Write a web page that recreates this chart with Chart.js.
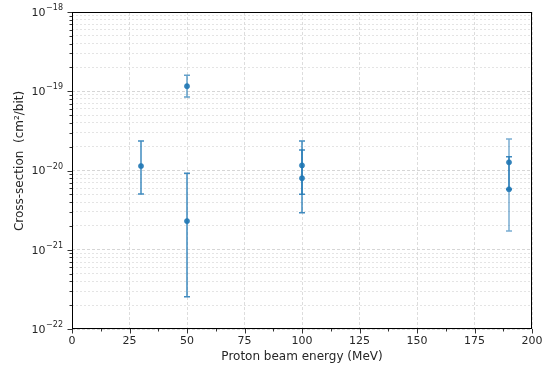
<!DOCTYPE html>
<html><head><meta charset="utf-8">
<script src="https://cdn.jsdelivr.net/npm/chart.js@4/dist/chart.umd.min.js"></script>
<style>html,body{margin:0;padding:0;background:#fff;}#wrap{width:554px;height:369px;}</style>
</head><body><div id="wrap"><canvas id="c" width="554" height="369"></canvas></div>
<script>
const energies = [30, 50, 50, 100, 100, 190, 190];
const crossSections = [1.14e-20, 1.16e-19, 2.3e-21, 1.16e-20, 8.0e-21, 1.27e-20, 5.8e-21];
const errLow = [5.05e-21, 8.45e-20, 2.56e-22, 5.0e-21, 2.93e-21, 5.8e-21, 1.73e-21];
const errHigh = [2.36e-20, 1.59e-19, 9.2e-21, 2.36e-20, 1.82e-20, 1.49e-20, 2.5e-20];
const barAlpha = [0.85, 0.7, 0.85, 0.85, 0.85, 0.85, 0.6];
const yDecades = [-22, -21, -20, -19, -18];
const xMajorTicks = [0, 25, 50, 75, 100, 125, 150, 175, 200];
const xMinorTicks = [12.5, 37.5, 62.5, 87.5, 112.5, 137.5, 162.5, 187.5];
const xTitle = 'Proton beam energy (MeV)';
const yTitle = 'Cross-section  (cm²/bit)';

const FONT = "'DejaVu Sans', sans-serif";
const BLUE = '31,119,180';
const TXT = '#262626';

const errorBars = {
  id: 'errorBars',
  afterDatasetsDraw(chart) {
    const ctx = chart.ctx, xs = chart.scales.x, ys = chart.scales.y;
    ctx.save();
    ctx.lineWidth = 1.5;
    energies.forEach((e, i) => {
      const px = xs.getPixelForValue(e);
      const pl = ys.getPixelForValue(errLow[i]);
      const ph = ys.getPixelForValue(errHigh[i]);
      ctx.strokeStyle = `rgba(${BLUE},${barAlpha[i]})`;
      ctx.beginPath();
      ctx.moveTo(px, pl); ctx.lineTo(px, ph);
      ctx.moveTo(px - 3, pl); ctx.lineTo(px + 3, pl);
      ctx.moveTo(px - 3, ph); ctx.lineTo(px + 3, ph);
      ctx.stroke();
    });
    ctx.restore();
  }
};

const frameTicks = {
  id: 'frameTicks',
  afterDraw(chart) {
    const ctx = chart.ctx, a = chart.chartArea, xs = chart.scales.x, ys = chart.scales.y;
    ctx.save();
    ctx.strokeStyle = '#000';
    ctx.lineWidth = 1;
    ctx.strokeRect(a.left + 0.5, a.top + 0.5, a.right - a.left - 1, a.bottom - a.top - 1);
    ctx.strokeStyle = '#333';
    ctx.beginPath();
    ys.ticks.forEach(t => {
      const py = Math.round(ys.getPixelForValue(t.value)) + 0.5;
      const len = t.major ? 4.5 : 2.5;
      ctx.moveTo(a.left, py); ctx.lineTo(a.left - len, py);
    });
    xMajorTicks.forEach(v => {
      const px = Math.round(xs.getPixelForValue(v)) + 0.5;
      ctx.moveTo(px, a.bottom); ctx.lineTo(px, a.bottom + 4.5);
    });
    xMinorTicks.forEach(v => {
      const px = Math.round(xs.getPixelForValue(v)) + 0.5;
      ctx.moveTo(px, a.bottom); ctx.lineTo(px, a.bottom + 2.5);
    });
    ctx.stroke();
    // y tick labels with superscript exponents
    ctx.fillStyle = TXT;
    ctx.textBaseline = 'middle';
    ctx.textAlign = 'left';
    yDecades.forEach(d => {
      const py = ys.getPixelForValue(Math.pow(10, d));
      const expStr = '\u2212' + String(Math.abs(d));
      ctx.font = `8px ${FONT}`;
      const ew = ctx.measureText(expStr).width;
      ctx.font = `11px ${FONT}`;
      const bw = ctx.measureText('10').width;
      const right = a.left - 9;
      ctx.fillText('10', right - ew - bw - 0.5, py + 1);
      ctx.font = `8px ${FONT}`;
      ctx.fillText(expStr, right - ew, py - 4);
    });
    // y axis title
    ctx.font = `12px ${FONT}`;
    ctx.textAlign = 'center';
    ctx.translate(20, 161);
    ctx.rotate(-Math.PI / 2);
    ctx.fillText(yTitle, 0, 0);
    ctx.restore();
  }
};

new Chart(document.getElementById('c'), {
  type: 'scatter',
  data: {
    datasets: [{
      data: energies.map((e, i) => ({x: e, y: crossSections[i]})),
      backgroundColor: `rgba(${BLUE},0.9)`,
      borderColor: `rgba(${BLUE},1)`,
      pointRadius: 2.6,
      borderWidth: 0.5
    }]
  },
  options: {
    responsive: false,
    animation: false,
    layout: {padding: {left: 0, top: 12, right: 22, bottom: 0}},
    plugins: {legend: {display: false}, tooltip: {enabled: false}},
    scales: {
      x: {
        type: 'linear', min: 0, max: 200,
        afterBuildTicks: s => { s.ticks = xMajorTicks.map(v => ({value: v})); },
        afterFit: s => { s.height = 40; },
        ticks: {autoSkip: false, maxRotation: 0, padding: 6, color: TXT, font: {family: FONT, size: 11}, callback: v => String(v)},
        grid: {drawTicks: false, color: '#d4d4d4', lineWidth: 0.8},
        border: {display: false, dash: [3, 2]},
        title: {display: true, text: xTitle, color: TXT, font: {family: FONT, size: 12}, padding: {top: 2, bottom: 5}}
      },
      y: {
        type: 'logarithmic', min: 1e-22, max: 1e-18,
        afterBuildTicks: s => {
          const t = [];
          yDecades.forEach((d, k) => {
            const m = k === yDecades.length - 1 ? 1 : 9;
            for (let j = 1; j <= m; j++) t.push({value: j * Math.pow(10, d), major: j === 1, exp: d});
          });
          s.ticks = t;
        },
        afterFit: s => { s.width = 72; },
        ticks: {display: false, autoSkip: false},
        grid: {
          drawTicks: false,
          color: c => c.tick && c.tick.major ? '#cccccc' : '#dddddd',
          lineWidth: 0.8
        },
        border: {display: false, dash: c => c.tick && c.tick.major ? [3, 2] : [2, 2]},
        title: {display: false}
      }
    }
  },
  plugins: [errorBars, frameTicks]
});
</script></body></html>
